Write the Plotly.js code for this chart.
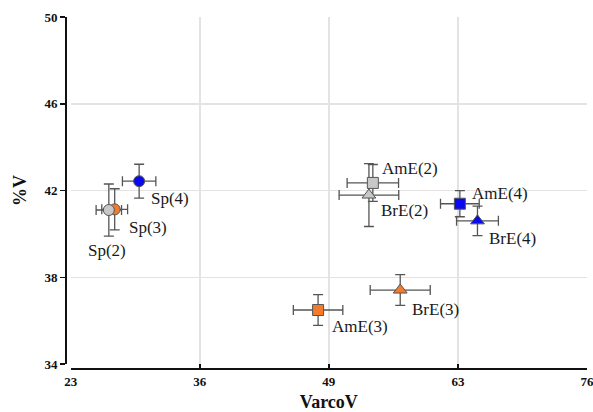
<!DOCTYPE html>
<html>
<head>
<meta charset="utf-8">
<script src="https://cdn.plot.ly/plotly-3.0.1.min.js"></script>
<style>html,body{margin:0;padding:0;background:#fff;}#chart{width:593px;height:412px;}</style>
</head>
<body>
<div id="chart"></div>
<script>
// Data
var labels = ["Sp(3)", "Sp(2)", "Sp(4)", "AmE(2)", "BrE(2)", "AmE(4)", "BrE(4)", "AmE(3)", "BrE(3)"];
var varcoV = [27.5, 26.9, 30.0, 53.9, 53.5, 62.8, 64.6, 48.3, 56.7];
var pctV   = [41.13, 41.10, 42.43, 42.35, 41.79, 41.39, 40.60, 36.49, 37.41];
var varcoErr = [1.32, 1.30, 1.71, 2.63, 3.05, 1.98, 2.14, 2.53, 3.07];
var pctErr   = [0.95, 1.20, 0.78, 0.85, 1.45, 0.60, 0.68, 0.71, 0.71];
var groups = [3, 2, 4, 2, 2, 4, 4, 3, 3];
var varieties = ["Sp", "Sp", "Sp", "AmE", "BrE", "AmE", "BrE", "AmE", "BrE"];
var xTickLabels = ["23", "36", "49", "63", "76"];
var yTickLabels = ["34", "38", "42", "46", "50"];

// Styles
var FONT = "Liberation Serif";
var groupColor = {2: "#c8c8c8", 3: "#f47a2c", 4: "#0a0af0"};
var varietySymbol = {"Sp": "circle", "AmE": "square", "BrE": "triangle-up"};
var varietySize = {"Sp": 11, "AmE": 11, "BrE": 12};
// label offsets in pixels [dx, dy(down)]
var labelOffsets = [[12, 18], [-23, 40], [10, 17], [7, -14], [10, 15], [10, -10], [10, 18], [12, 16], [10, 19]];

var xMin = 23, xMax = 75.8;
var xTickVals = xTickLabels.map(function (t, i) { return xMin + i * (xMax - xMin) / (xTickLabels.length - 1); });

var trace = {
  type: "scatter",
  mode: "markers",
  x: varcoV,
  y: pctV,
  error_x: {type: "data", array: varcoErr, visible: true, color: "#555555", thickness: 1.3, width: 5},
  error_y: {type: "data", array: pctErr, visible: true, color: "#555555", thickness: 1.3, width: 5},
  marker: {
    color: groups.map(function (g) { return groupColor[g]; }),
    symbol: varieties.map(function (v) { return varietySymbol[v]; }),
    size: varieties.map(function (v) { return varietySize[v]; }),
    line: {color: "#555555", width: 1},
    opacity: 1
  },
  hoverinfo: "skip",
  showlegend: false
};

var annotations = labels.map(function (l, i) {
  return {
    x: varcoV[i], y: pctV[i], xref: "x", yref: "y",
    text: l, showarrow: false, xanchor: "left", yanchor: "middle",
    xshift: labelOffsets[i][0], yshift: -labelOffsets[i][1],
    font: {family: FONT, size: 17, color: "#1a1a1a"}
  };
});

var layout = {
  width: 593, height: 412,
  margin: {l: 66, r: 6, t: 17, b: 43, pad: 0},
  paper_bgcolor: "#ffffff", plot_bgcolor: "#ffffff",
  showlegend: false,
  font: {family: FONT},
  xaxis: {
    domain: [0.009, 1],
    anchor: "free", position: 0,
    range: [xMin, xMax + 0.001],
    tickmode: "array", tickvals: xTickVals, ticktext: xTickLabels,
    ticklabeloverflow: "allow",
    showgrid: true, gridcolor: "#e3e3e3", gridwidth: 1.5,
    zeroline: false,
    showline: true, linecolor: "#111111", linewidth: 2,
    ticks: "inside", ticklen: 4, tickcolor: "#111111", tickwidth: 1.5,
    tickfont: {family: FONT, size: 13, color: "#111111", weight: "bold"},
    title: {text: "VarcoV", standoff: 9, font: {family: FONT, size: 18, color: "#111111", weight: "bold"}}
  },
  yaxis: {
    domain: [0.0142, 1],
    anchor: "free", position: 0,
    range: [34, 50],
    tickmode: "array", tickvals: yTickLabels.map(Number), ticktext: yTickLabels,
    ticklabeloverflow: "allow",
    showgrid: true, gridcolor: "#e3e3e3", gridwidth: 1.5,
    zeroline: false,
    showline: true, linecolor: "#111111", linewidth: 2,
    ticks: "outside", ticklen: 5, tickcolor: "#111111", tickwidth: 1.5,
    tickfont: {family: FONT, size: 13, color: "#111111", weight: "bold"},
    title: {text: "%V", standoff: 12, font: {family: FONT, size: 18, color: "#111111", weight: "bold"}}
  },
  annotations: annotations
};

Plotly.newPlot("chart", [trace], layout, {staticPlot: true, displayModeBar: false});
</script>
</body>
</html>
